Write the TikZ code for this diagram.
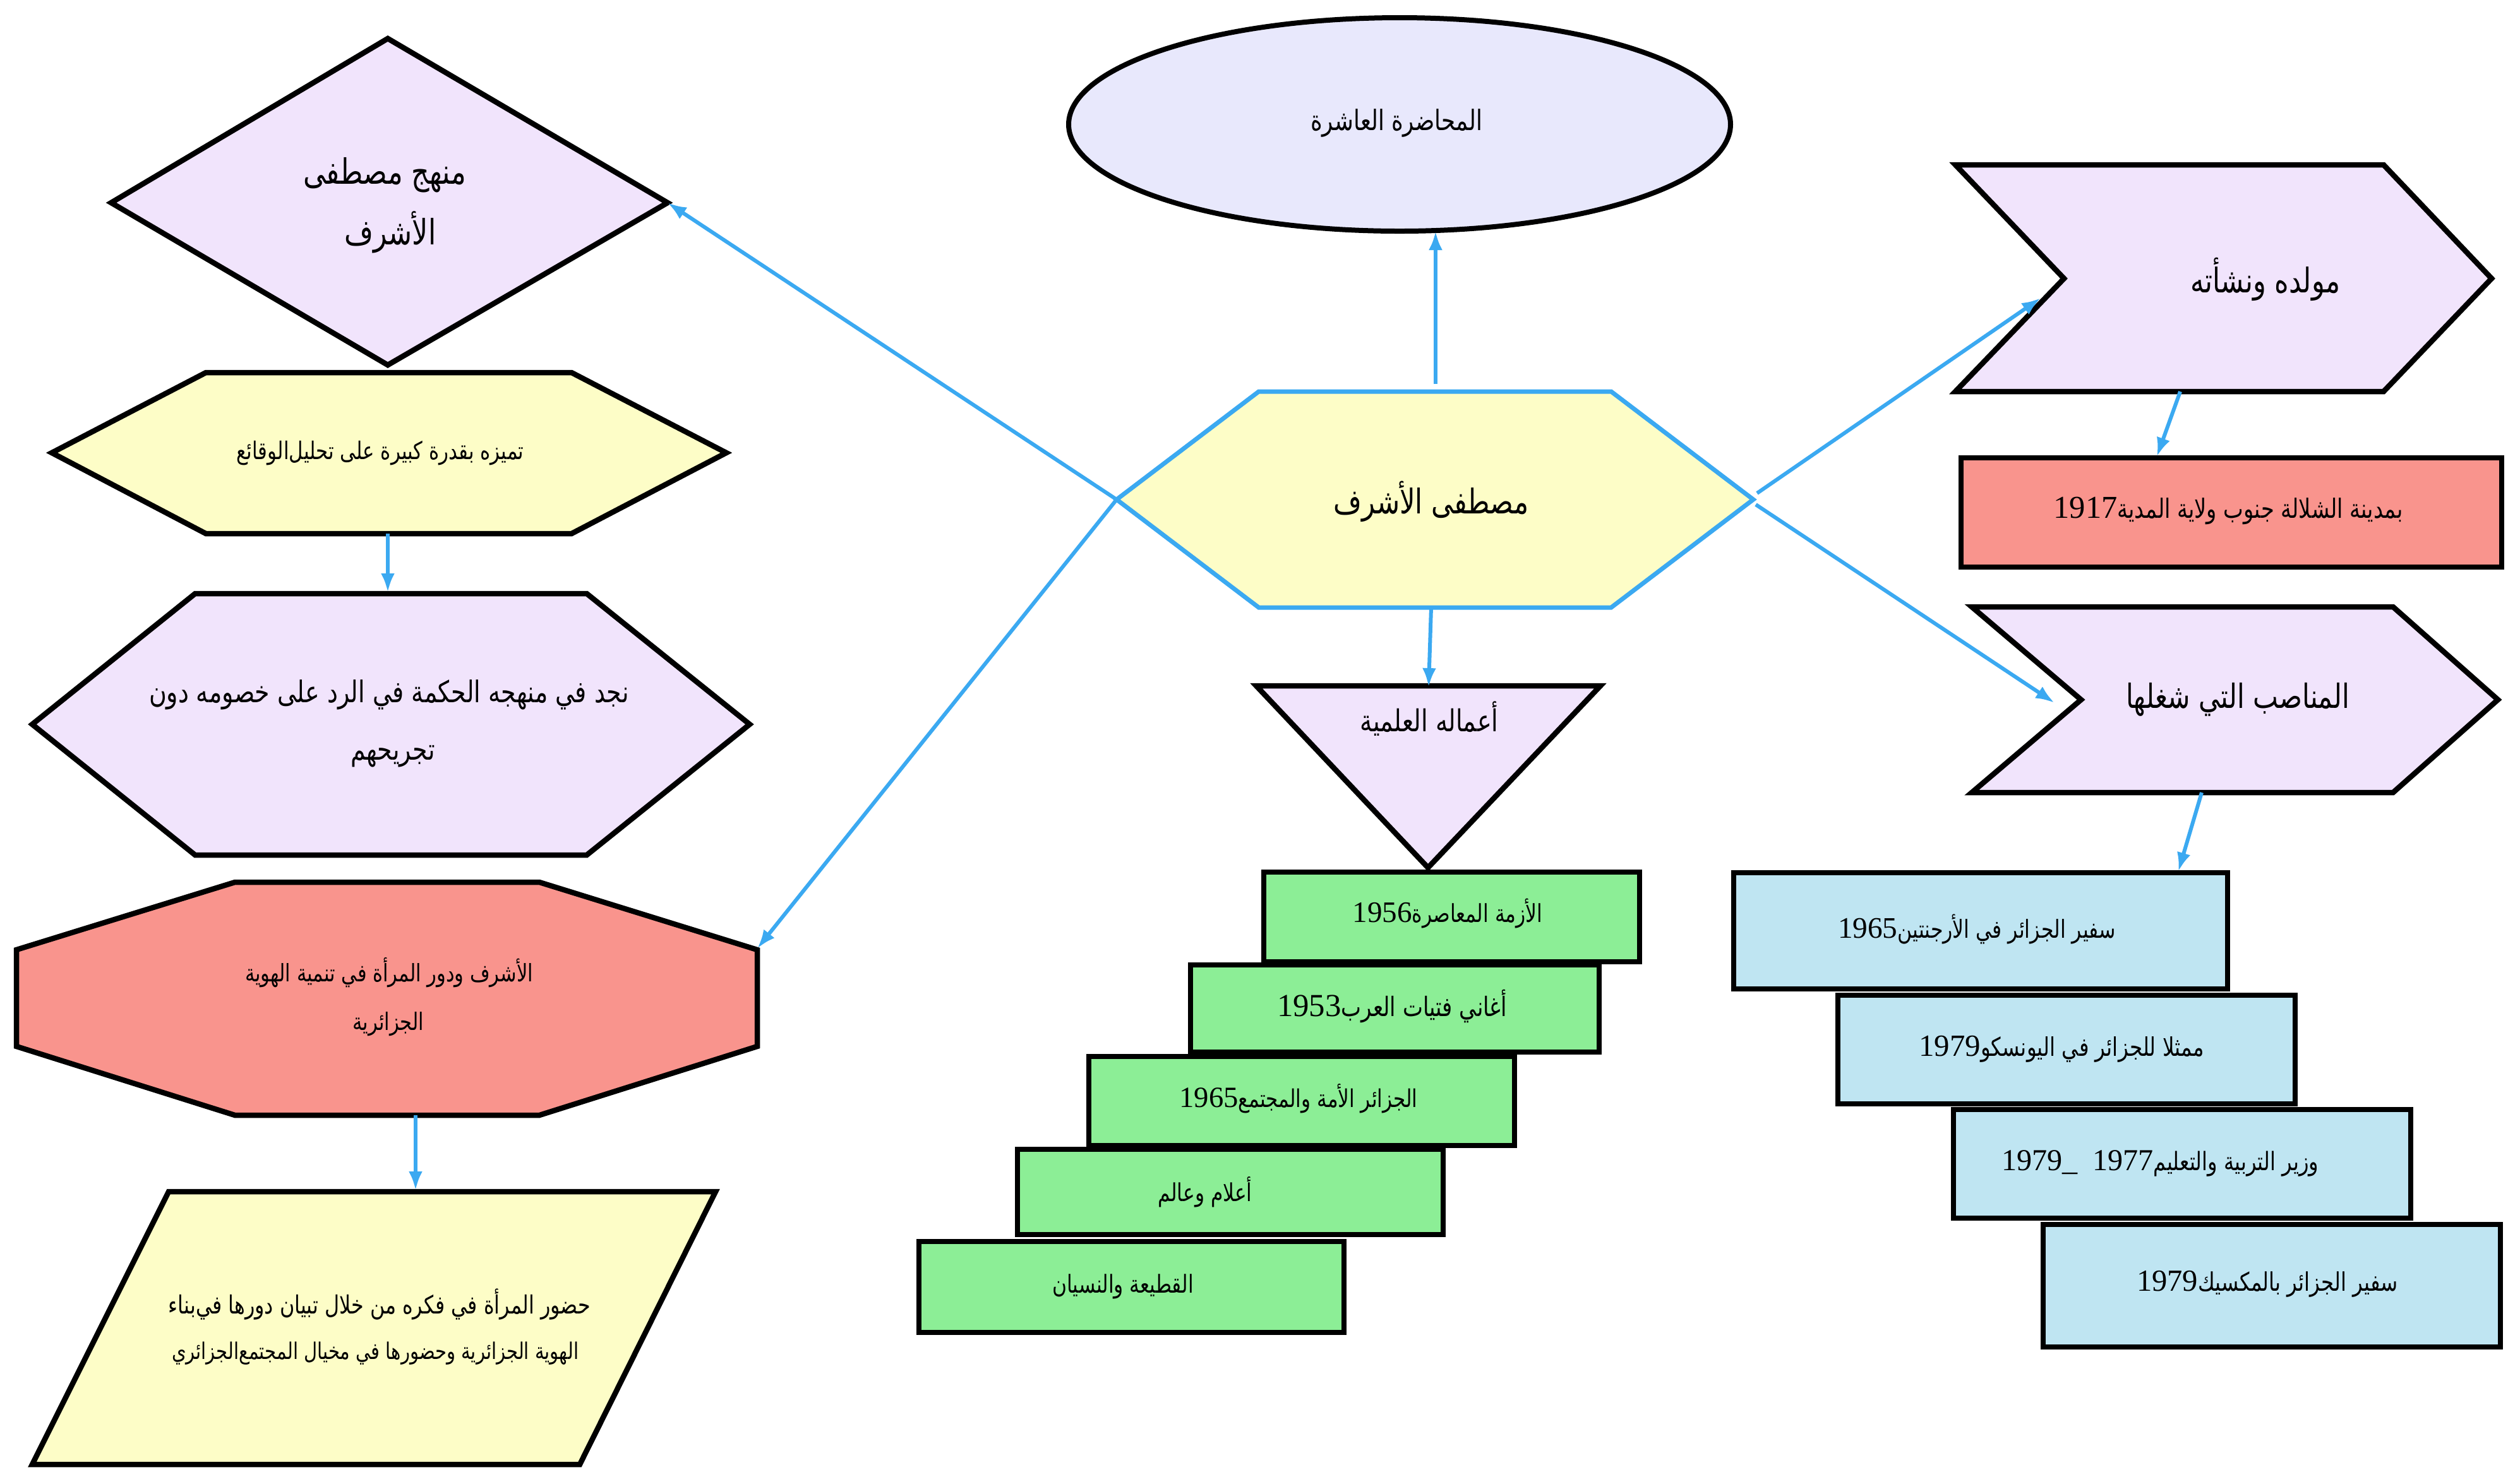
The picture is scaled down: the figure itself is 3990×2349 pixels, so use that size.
\documentclass[tikz,border=0pt]{standalone}
\usepackage{fontspec}
\usepackage{graphicx}
\usetikzlibrary{arrows.meta}
\TeXXeTstate=1
\newfontfamily\arabicfont[Script=Arabic]{DejaVu Sans}
\newfontfamily\numfont[Scale=1.2]{Liberation Serif}
\definecolor{lavE}{HTML}{E8E8FC}
\definecolor{lav}{HTML}{F1E4FC}
\definecolor{yel}{HTML}{FDFDC7}
\definecolor{sal}{HTML}{F9948D}
\definecolor{grn}{HTML}{8CEE96}
\definecolor{lblu}{HTML}{BFE5F2}
\definecolor{conblue}{HTML}{3BA9F1}
\newcommand\AR[1]{{\arabicfont\beginR #1\endR}}
\newcommand\ARc[1]{\scalebox{0.8}[1]{\AR{#1}}}
\newcommand\NUM[1]{{\numfont #1}}
\newcommand\fitw[2]{\resizebox{#1mm}{!}{#2}}
\newsavebox\tbox
\newlength\tlen
\newcommand\measure[2]{\sbox\tbox{#2}\setlength\tlen{\wd\tbox}\pgfmathsetmacro\fac{#1*2.845276/\tlen}\global\let\gfac\fac}
\tikzset{
  shp/.style={draw=black, line width=0.85mm, line join=miter},
  conn/.style={draw=conblue, line width=0.6mm, -{Latex[length=3mm,width=2.2mm]}},
  txt/.style={inner sep=0pt, outer sep=0pt, anchor=center}
}
\begin{document}
\begin{tikzpicture}[x=0.1mm,y=-0.1mm]
\fill[white] (0,0) rectangle (3990,2349);
\useasboundingbox (0,0) rectangle (3990,2349);

% ---------- shapes ----------
% title ellipse
\draw[shp, line width=0.8mm, fill=lavE] (2216,197) ellipse [x radius=52.4mm, y radius=16.9mm];
% central hexagon
\draw[line width=0.7mm, draw=conblue, fill=yel, line join=miter]
  (1768,791) -- (1993,620) -- (2551,620) -- (2776,791) -- (2551,962) -- (1993,962) -- cycle;
% diamond
\draw[shp, fill=lav] (614,61) -- (1057,321) -- (614,578) -- (176,321) -- cycle;
% yellow hexagon
\draw[shp, fill=yel] (82,717) -- (326,590) -- (905,590) -- (1150,717) -- (905,845) -- (326,845) -- cycle;
% lavender hexagon
\draw[shp, fill=lav] (51,1147) -- (309,940) -- (929,940) -- (1187,1147) -- (929,1354) -- (309,1354) -- cycle;
% octagon
\draw[shp, fill=sal] (372,1397) -- (854,1397) -- (1199,1504) -- (1199,1657) -- (854,1766) -- (372,1766) -- (26,1657) -- (26,1504) -- cycle;
% parallelogram
\draw[shp, fill=yel] (267,1887) -- (1133,1887) -- (918,2319) -- (51,2319) -- cycle;
% triangle
\draw[shp, fill=lav] (1989,1086) -- (2534,1086) -- (2261,1374) -- cycle;
% green boxes
\draw[shp, fill=grn] (2001,1381) rectangle (2596,1523);
\draw[shp, fill=grn] (1885,1528) rectangle (2532,1666);
\draw[shp, fill=grn] (1724,1673) rectangle (2398,1814);
\draw[shp, fill=grn] (1611,1820) rectangle (2285,1955);
\draw[shp, fill=grn] (1455,1966) rectangle (2128,2110);
% chevrons
\draw[shp, fill=lav] (3096,261) -- (3774,261) -- (3945,441) -- (3774,620) -- (3096,620) -- (3268,441) -- cycle;
\draw[shp, fill=lav] (3122,961) -- (3789,961) -- (3955,1108) -- (3789,1255) -- (3122,1255) -- (3295,1108) -- cycle;
% red box
\draw[shp, fill=sal] (3105,725) rectangle (3961,898);
% blue boxes
\draw[shp, fill=lblu] (2745,1382) rectangle (3527,1566);
\draw[shp, fill=lblu] (2910,1576) rectangle (3634,1748);
\draw[shp, fill=lblu] (3093,1757) rectangle (3817,1929);
\draw[shp, fill=lblu] (3235,1939) rectangle (3959,2133);

% ---------- connector end points ----------
\coordinate (cTop) at (2273,620);   \coordinate (eBot) at (2273,366);
\coordinate (cBot) at (2266,962);   \coordinate (triTop) at (2262,1088);
\coordinate (cLft) at (1768,791);   \coordinate (diaR) at (1057,321);
\coordinate (octTR) at (1199,1502);
\coordinate (cRt1) at (2782,781);   \coordinate (ch1In) at (3231,472);
\coordinate (cRt2) at (2780,799);   \coordinate (ch2In) at (3253,1113);
\coordinate (ch1Bot) at (3452,620); \coordinate (redTop) at (3415,723);
\coordinate (ch2Bot) at (3486,1255);\coordinate (bATop) at (3449,1380);
\coordinate (yhBot) at (614,845);   \coordinate (lhTop) at (614,938);
\coordinate (octBot) at (658,1766); \coordinate (parTop) at (658,1885);

% ---------- connectors ----------
\draw[conn, shorten <=1.2mm] (cTop) -- (eBot);
\draw[conn] (cBot) -- (triTop);
\draw[conn] (cLft) -- (diaR);
\draw[conn] (cLft) -- (octTR);
\draw[conn] (cRt1) -- (ch1In);
\draw[conn] (cRt2) -- (ch2In);
\draw[conn] (ch1Bot) -- (redTop);
\draw[conn] (ch2Bot) -- (bATop);
\draw[conn] (yhBot) -- (lhTop);
\draw[conn] (octBot) -- (parTop);

% ---------- texts ----------
\node[txt] (tEll) at (2211,195) {\fitw{27.2}{\ARc{المحاضرة العاشرة}}};
\node[txt] (tCen) at (2266,794) {\fitw{30.9}{\ARc{مصطفى الأشرف}}};

\node[txt] (tDia1) at (609,277) {\measure{25.8}{\ARc{منهج مصطفى}}\scalebox{\gfac}{\ARc{منهج مصطفى}}};
\node[txt] (tDia2) at (618,368) {\scalebox{\gfac}{\ARc{الأشرف}}};

\node[txt] (tYh) at (602,718) {\fitw{45.5}{\ARc{تميزه بقدرة كبيرة على تحليل‌الوقائع}}};

\node[txt] (tLh1) at (616,1100) {\measure{76.0}{\ARc{نجد في منهجه الحكمة في الرد على خصومه دون}}\scalebox{\gfac}{\ARc{نجد في منهجه الحكمة في الرد على خصومه دون}}};
\node[txt] (tLh2) at (622,1198) {\scalebox{\gfac}{\ARc{تجريحهم}}};

\node[txt] (tOc1) at (616,1540) {\measure{45.6}{\ARc{الأشرف ودور المرأة في تنمية الهوية}}\scalebox{\gfac}{\ARc{الأشرف ودور المرأة في تنمية الهوية}}};
\node[txt] (tOc2) at (615,1622) {\scalebox{\gfac}{\ARc{الجزائرية}}};

\node[txt] (tPa1) at (601,2065) {\fitw{66.8}{\ARc{حضور المرأة في فكره من خلال تبيان دورها في‌بناء}}};
\node[txt] (tPa2) at (594,2143) {\fitw{64.4}{\ARc{الهوية الجزائرية وحضورها في مخيال المجتمع‌الجزائري}}};

\node[txt] (tTri) at (2263,1138) {\fitw{21.9}{\ARc{أعماله العلمية}}};
\node[txt] (tG1) at (2292,1447) {\fitw{30.1}{\NUM{1956}\ARc{الأزمة المعاصرة}}};
\node[txt] (tG2) at (2204,1593) {\fitw{36.4}{\NUM{1953}\ARc{أغاني فتيات العرب}}};
\node[txt] (tG3) at (2056,1740) {\fitw{37.7}{\NUM{1965}\ARc{الجزائر الأمة والمجتمع}}};
\node[txt] (tG4) at (1908,1888) {\fitw{14.9}{\ARc{أعلام وعالم}}};
\node[txt] (tG5) at (1778,2037) {\fitw{22.4}{\ARc{القطيعة والنسيان}}};

\node[txt] (tCh1) at (3587,442) {\fitw{23.7}{\ARc{مولده ونشأته}}};
\node[txt] (tRed) at (3528,809) {\fitw{55.3}{\NUM{1917}\ARc{بمدينة الشلالة جنوب ولاية المدية}}};
\node[txt] (tCh2) at (3543,1108) {\fitw{35.4}{\ARc{المناصب التي شغلها}}};
\node[txt] (tBA) at (3130,1471) {\fitw{44.0}{\NUM{1965}\ARc{سفير الجزائر في الأرجنتين}}};
\node[txt] (tBB) at (3264,1661) {\fitw{45.1}{\NUM{1979}\ARc{ممثلا للجزائر في اليونسكو}}};
\node[txt] (tBC) at (3420,1842) {\fitw{50.2}{\NUM{1979\_\ \ 1977}\ARc{وزير التربية والتعليم}}};
\node[txt] (tBD) at (3590,2033) {\fitw{41.4}{\NUM{1979}\ARc{سفير الجزائر بالمكسيك}}};
\end{tikzpicture}
\end{document}
